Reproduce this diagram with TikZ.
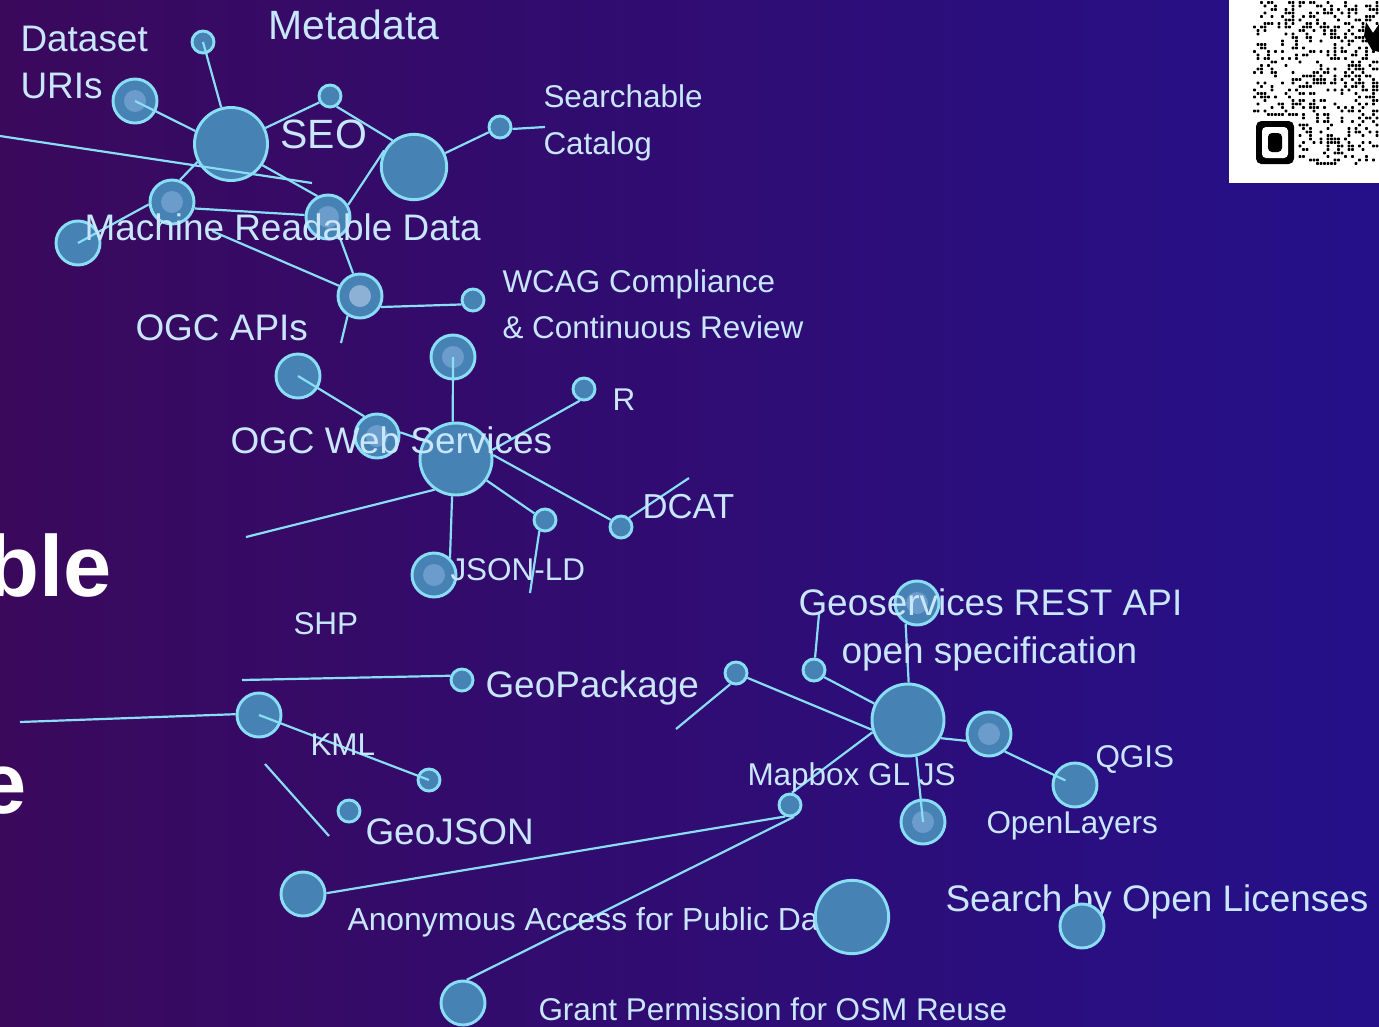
\documentclass[tikz,border=0pt]{standalone}
\usepackage{fontspec}
\setmainfont{Liberation Sans}

\definecolor{bgL}{HTML}{3A095C}
\definecolor{bgM}{HTML}{480C70}
\definecolor{bgR}{HTML}{25108A}
\definecolor{nodeblue}{HTML}{4682B4}
\definecolor{linkcyan}{HTML}{89DDF5}
\definecolor{dotblue}{HTML}{6B9CCB}
\definecolor{dotpale}{HTML}{8CB1D4}
\definecolor{lbl}{HTML}{C8E6FC}

\tikzset{every picture/.style={line width=0.75pt}}
\tikzset{
  blob/.style={circle, draw=linkcyan, fill=nodeblue, line width=2.2pt, inner sep=0pt},
  sm/.style={blob, minimum size=16.5pt},
  md/.style={blob, minimum size=33pt},
  lg/.style={blob, minimum size=54pt},
  link/.style={draw=linkcyan, line width=1.65pt},
  lblS/.style={text=lbl, inner sep=0pt, anchor=base west, font=\fontsize{23.6pt}{28pt}\selectfont},
  lblM/.style={text=lbl, inner sep=0pt, anchor=base west, font=\fontsize{27.7pt}{32pt}\selectfont},
  lblL/.style={text=lbl, inner sep=0pt, anchor=base west, font=\fontsize{30.7pt}{35pt}\selectfont},
  titlebit/.style={text=white, inner sep=0pt, anchor=base east, font=\bfseries\fontsize{65pt}{70pt}\selectfont}
}

\begin{document}
\begin{tikzpicture}[x=0.75pt,y=0.75pt,yscale=-1]
  \useasboundingbox (0,0) rectangle (1379,1026);
  \clip (0,0) rectangle (1379,1026);

  %Background
  \shade[left color=bgL, middle color=bgM, right color=bgR] (0,0) rectangle (1379,1026);

  %QR code
  \fill[white] (1229,0) rectangle (1379,183);
  \pgfmathsetseed{4217}
  \foreach \i in {0,...,35}{
    \foreach \j in {0,...,46}{
      \pgfmathsetmacro{\qx}{1253+3.5*\i}
      \pgfmathsetmacro{\qy}{1+3.5*\j}
      \pgfmathtruncatemacro{\qon}{(rnd<0.33)*(1-(\qx<1298)*(\qy>116))}
      \ifnum\qon=1 \fill[black, rounded corners=0.6pt] (\qx,\qy) rectangle ++(2.9,2.9); \fi
    }
  }
  \fill[black, rounded corners=4pt] (1256,121) rectangle (1294,164);
  \fill[white, rounded corners=3pt] (1262,127) rectangle (1288,158);
  \fill[black, rounded corners=3pt] (1268,133) rectangle (1282,152);
  \fill[black] (1366,22) -- (1373,33) -- (1379,24) -- (1379,52) -- (1372,50) -- (1364,36) -- cycle;

  % Title pieces
  \node[titlebit] (tBle) at (112,596) {ble};
  \node[titlebit] (tE) at (27,813) {e};

  %Circles
  \node[sm] (nMetaTop) at (203,42) {};
  \node[md] (nUris) at (135,101) {};
  \node[lg, minimum size=54.75pt] (nSeo) at (231,144) {};
  \node[sm] (nSeoTop) at (330,96) {};
  \node[lg, minimum size=49pt] (nCat) at (414,167) {};
  \node[sm] (nCatEnd) at (500,127) {};
  \node[md] (nMrdA) at (172,202) {};
  \node[md] (nMrdL) at (78,243) {};
  \node[md] (nMrdB) at (328,217) {};
  \node[md] (nWcag) at (360,296) {};
  \node[sm] (nWcagEnd) at (473,300) {};
  \node[md] (nOgcA) at (298,376) {};
  \node[md] (nOgcB) at (377,436) {};
  \node[md] (nOwsTop) at (453,357) {};
  \node[lg] (nOws) at (456,459) {};
  \node[sm] (nR) at (584,389) {};
  \node[sm] (nDcat) at (621,527) {};
  \node[sm] (nLd) at (545,520) {};
  \node[md] (nJson) at (434,575) {};
  \node[md] (nShp) at (259,715) {};
  \node[sm] (nGpkg) at (462,680) {};
  \node[sm] (nKml) at (429,780) {};
  \node[sm] (nGeojson) at (349,811) {};
  \node[md] (nGsTop) at (917,603) {};
  \node[sm] (nGsSmall) at (814,670) {};
  \node[sm] (nGsA) at (736,673) {};
  \node[lg] (nGs) at (908,720) {};
  \node[md] (nLib) at (989,734) {};
  \node[md] (nQgis) at (1075,785) {};
  \node[md] (nOl) at (923,822) {};
  \node[sm] (nMap) at (790,805) {};
  \node[md] (nAnon) at (303,894) {};
  \node[md] (nOsm) at (463,1003) {};

  %Inner dots
  \foreach \n in {nUris,nMrdA,nMrdB,nOwsTop,nOgcB,nJson,nGsTop,nLib,nOl}
    \fill[dotblue] (\n) circle (11);
  \fill[dotpale] (nWcag) circle (11);

  %Free ends
  \coordinate (cCatStub) at (545,127);
  \coordinate (cLongA) at (0,136);
  \coordinate (cLongB) at (312,183);
  \coordinate (cMrdStub) at (212,231);
  \coordinate (cWcagStub) at (341,343);
  \coordinate (cDcatStub) at (689,478);
  \coordinate (cLdStub) at (530,593);
  \coordinate (cOwsStub) at (246,537);
  \coordinate (cShpStub) at (20,722);
  \coordinate (cGpkgStub) at (242,680);
  \coordinate (cKmlA) at (265,764);
  \coordinate (cKmlB) at (329,836);
  \coordinate (cGsStub) at (819,614);
  \coordinate (cGsAStub) at (676,729);

  %Links
  \draw[link] (nMetaTop.center) -- (nSeo.105);
  \draw[link] (nUris.center) -- (nSeo.160);
  \draw[link] (nSeo.25) -- (nSeoTop.211);
  \draw[link] (nSeoTop.302) -- (nCat.129);
  \draw[link] (nCat.24) -- (nCatEnd.205);
  \draw[link] (nCatEnd.351) -- (cCatStub);
  \draw[link] (cLongA) -- (cLongB);
  \draw[link] (nSeo.208) -- (nMrdA.70);
  \draw[link] (nSeo.326) -- (nMrdB.117);
  \draw[link] (nMrdB.31) -- (nCat.151);
  \draw[link] (nMrdA.344) -- (nMrdB.175);
  \draw[link] (nMrdL.center) -- (nMrdA.186);
  \draw[link] (cMrdStub) -- (nWcag.154);
  \draw[link] (nMrdB.300) -- (nWcag.107);
  \draw[link] (nWcag.332) -- (nWcagEnd.201);
  \draw[link] (nWcag.238) -- (cWcagStub);

  \draw[link] (nOgcA.center) -- (nOgcB.123);
  \draw[link] (nOgcB.9) -- (nOws.150);
  \draw[link] (nOwsTop.center) -- (nOws.95);
  \draw[link] (nOws.14) -- (nR.250);
  \draw[link] (nOws.6) -- (nDcat.145);
  \draw[link] (nDcat.48) -- (cDcatStub);
  \draw[link] (nOws.325) -- (nLd.148);
  \draw[link] (nLd.243) -- (cLdStub);
  \draw[link] (nOws.264) -- (nJson.47);
  \draw[link] (nOws.235) -- (cOwsStub);

  \draw[link] (cShpStub) -- (nShp.178);
  \draw[link] (cGpkgStub) -- (nGpkg.160);
  \draw[link] (nShp.center) -- (nKml.center);
  \draw[link] (cKmlA) -- (cKmlB);

  \draw[link] (nGsSmall.85) -- (cGsStub);
  \draw[link] (nGsSmall.325) -- (nGs.154);
  \draw[link] (nGsTop.241) -- (nGs.89);
  \draw[link] (nGsA.337) -- (nGs.195);
  \draw[link] (nGsA.243) -- (cGsAStub);
  \draw[link] (nGs.331) -- (nLib.197);
  \draw[link, shorten >=8pt] (nLib.312) -- (nQgis.center);
  \draw[link] (nGs.283) -- (nOl.center);
  \draw[link] (nGs.199) -- (nMap.81);
  \draw[link] (nMap.247) -- (nAnon.2);
  \draw[link] (nMap.288) -- (nOsm.81);

  % Text Nodes
  \node[lblM] (tDataset) at (20,51) {Dataset};
  \node[lblM] (tUris) at (20,98) {URIs};
  \node[lblL] (tMeta) at (268,39) {Metadata};
  \node[lblL] (tSeo) at (280,148) {SEO};
  \node[lblS] (tSearch) at (543,107) {Searchable};
  \node[lblS] (tCatalog) at (543,154) {Catalog};
  \node[lblM] (tMrd) at (84,240) {Machine Readable Data};
  \node[lblS] (tWcag) at (502,292) {WCAG Compliance};
  \node[lblS] (tReview) at (502,338) {\& Continuous Review};
  \node[lblM] (tOgcApi) at (135,340) {OGC APIs};
  \node[lblM] (tOws) at (230,453) {OGC Web Services};
  \node[lblS] (tR) at (612,410) {R};
  \node[lblM, font=\fontsize{26pt}{30pt}\selectfont] (tDcat) at (642,518) {DCAT};
  \node[lblS] (tJsonLd) at (450,580) {JSON-LD};
  \node[lblS] (tShp) at (293,634) {SHP};
  \node[lblM] (tGpkg) at (485,697) {GeoPackage};
  \node[lblS] (tKml) at (310,755) {KML};
  \node[lblM] (tGeojson) at (365,844) {GeoJSON};
  \node[lblM] (tGsApi) at (798,615) {Geoservices REST API};
  \node[lblM] (tGsSpec) at (841,663) {open specification};
  \node[lblS] (tMapbox) at (747,785) {Mapbox GL JS};
  \node[lblS] (tQgis) at (1095,767) {QGIS};
  \node[lblS] (tOl) at (986,833) {OpenLayers};
  \node[lblS, font=\fontsize{23.9pt}{28pt}\selectfont] (tAnon) at (347,930) {Anonymous Access for Public Data};
  \node[lblS] (tOsm) at (538,1020) {Grant Permission for OSM Reuse};
  \node[lblM] (tLic) at (945,911) {Search by Open Licenses};

  %Circles over text
  \node[lg, minimum size=55pt] (nPub) at (852,917) {};
  \node[md] (nLic) at (1082,926) {};
\end{tikzpicture}
\end{document}
